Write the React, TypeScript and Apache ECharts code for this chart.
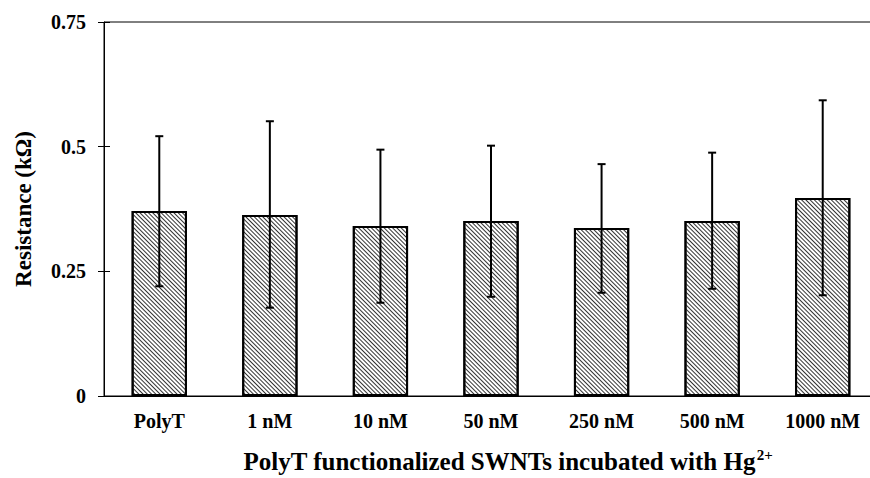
import React, { useEffect, useRef } from "react";
import * as echarts from "echarts";

const categories = ["PolyT", "1 nM", "10 nM", "50 nM", "250 nM", "500 nM", "1000 nM"];
const means = [0.371, 0.363, 0.341, 0.351, 0.337, 0.351, 0.397];
const errHigh = [0.521, 0.551, 0.494, 0.502, 0.465, 0.488, 0.593];
const errLow = [0.22, 0.177, 0.187, 0.199, 0.207, 0.215, 0.202];
const yTicks = [0, 0.25, 0.5, 0.75];

const FONT = "'Liberation Serif', 'Times New Roman', serif";

export default function App() {
  const ref = useRef<HTMLDivElement>(null);
  useEffect(() => {
    if (!ref.current) return;
    const chart = echarts.init(ref.current, null, { renderer: "svg" });
    const errData = categories.map((_, i) => [i, errLow[i], errHigh[i]]);
    const yBase = {
      type: "value",
      min: yTicks[0],
      max: yTicks[yTicks.length - 1],
      interval: 0.25,
      splitLine: { show: false },
    };
    chart.setOption({
      animation: false,
      grid: {
        left: 104,
        right: -8,
        top: 22,
        bottom: 82,
        containLabel: false,
        outerBoundsMode: "none",
        show: true,
        borderColor: "#000",
        borderWidth: 1,
        backgroundColor: "transparent",
      },
      xAxis: {
        type: "category",
        data: categories,
        axisLine: { lineStyle: { color: "#000", width: 1 } },
        axisTick: { alignWithLabel: true, length: 4, lineStyle: { color: "#000" } },
        axisLabel: {
          color: "#000",
          fontFamily: FONT,
          fontWeight: "bold",
          fontSize: 20,
          margin: 15,
        },
      },
      yAxis: [
        {
          ...yBase,
          name: "Resistance (kΩ)",
          nameLocation: "middle",
          nameGap: 69,
          nameTextStyle: { color: "#000", fontFamily: FONT, fontWeight: "bold", fontSize: 23 },
          axisLine: { show: true, lineStyle: { color: "#000", width: 1 } },
          axisTick: { show: true, length: 6, lineStyle: { color: "#000" } },
          axisLabel: {
            color: "#000",
            fontFamily: FONT,
            fontWeight: "bold",
            fontSize: 20,
            margin: 18,
          },
        },
        {
          ...yBase,
          position: "left",
          axisLine: { show: false },
          axisTick: { show: true, inside: true, length: 6, lineStyle: { color: "#000" } },
          axisLabel: { show: false },
        },
      ],
      graphic: [
        {
          type: "text",
          x: 508,
          y: 461,
          style: {
            text: "{a|PolyT functionalized SWNTs incubated with Hg}{s|2+}",
            align: "center",
            verticalAlign: "middle",
            rich: {
              a: { fontFamily: FONT, fontWeight: "bold", fontSize: 25, fill: "#000", color: "#000" },
              s: {
                fontFamily: FONT,
                fontWeight: "bold",
                fontSize: 15,
                fill: "#000",
                color: "#000",
                padding: [0, 0, 12, 1],
              },
            },
          },
        },
      ],
      series: [
        {
          type: "bar",
          data: means,
          barWidth: "50%",
          yAxisIndex: 0,
          itemStyle: {
            color: "#fff",
            borderColor: "#000",
            borderWidth: 2,
            decal: {
              symbol: "rect",
              symbolSize: 1,
              dashArrayX: [1, 0],
              dashArrayY: [1, 1.8],
              rotation: Math.PI / 4,
              color: "#333",
              backgroundColor: "#fff",
            },
          },
        },
        {
          type: "custom",
          yAxisIndex: 0,
          data: errData,
          z: 10,
          renderItem: (params: any, api: any) => {
            const idx = api.value(0);
            const lo = api.coord([idx, api.value(1)]);
            const hi = api.coord([idx, api.value(2)]);
            const hw = 4;
            const style = { stroke: "#000", lineWidth: 2 };
            return {
              type: "group",
              children: [
                { type: "line", shape: { x1: hi[0], y1: hi[1], x2: lo[0], y2: lo[1] }, style },
                { type: "line", shape: { x1: hi[0] - hw, y1: hi[1], x2: hi[0] + hw, y2: hi[1] }, style },
                { type: "line", shape: { x1: lo[0] - hw, y1: lo[1], x2: lo[0] + hw, y2: lo[1] }, style },
              ],
            };
          },
        },
      ],
    });
    return () => chart.dispose();
  }, []);
  return (
    <div
      ref={ref}
      style={{ position: "fixed", left: 0, top: 0, width: 870, height: 478, background: "#fff" }}
    />
  );
}
